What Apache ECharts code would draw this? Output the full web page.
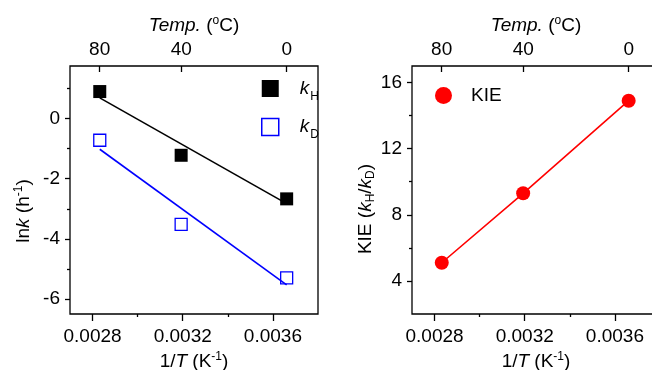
<!DOCTYPE html>
<html><head><meta charset="utf-8">
<script src="https://cdn.jsdelivr.net/npm/echarts@6/dist/echarts.min.js"></script>
<style>html,body{margin:0;padding:0;background:#fff}#c{width:652px;height:370px}</style>
</head><body><div id="c"></div>
<script>
// ---- data ----
const invT = [0.002832, 0.003193, 0.003661];      // 1/T (K^-1) for 80, 40, 0 °C
const lnkH = [0.9, -1.22, -2.67];
const lnkD = [-0.72, -3.52, -5.3];
const fitX = [0.002832, 0.003661];
const fitH = [0.69, -2.83];
const fitD = [-1.02, -5.53];
const KIE = [5.1, 9.3, 14.9];
const tempTicks = [80, 40, 0];                    // top axis (°C)
const xLabelTicks = [0.0028, 0.0032, 0.0036];
const xMinorTicks = [0.0030, 0.0034];
const yLeftLabels = [-6, -4, -2, 0];
const yLeftMinor = [1, -1, -3, -5];
const yRightLabels = [4, 8, 12, 16];
const yRightMinor = [6, 10, 14];

const FONT = 'Liberation Sans, Arial, sans-serif';
const FS = 19;
const tempPos = tempTicks.map(t => 1 / (t + 273.15));
const zip = (a, b) => a.map((v, i) => [v, b[i]]);

const chart = echarts.init(document.getElementById('c'));
const gridRect = (left) => ({left: left, top: 66, width: 248, height: 248, outerBoundsMode: 'none', containLabel: false});
const richName = {
  i: {fontStyle: 'italic', fontSize: FS, fontFamily: FONT, color: '#000'},
  n: {fontSize: FS, fontFamily: FONT, color: '#000'},
  sup: {fontSize: 12, fontFamily: FONT, color: '#000', padding: [0, 0, 10, 0]},
  sub: {fontSize: 12, fontFamily: FONT, color: '#000', padding: [10, 0, 0, 0]}
};
const lbl = {color: '#000', fontSize: FS, fontFamily: FONT};
const noLine = {show: false, onZero: false};

function bottomAxis(grid) {
  return {type: 'value', gridIndex: grid, position: 'bottom', min: 0.0027, max: 0.0038,
    axisLine: noLine, splitLine: {show: false},
    axisTick: {show: true, length: 3, customValues: xMinorTicks, lineStyle: {color: '#000', width: 1.3}},
    axisLabel: {show: true, customValues: xLabelTicks, margin: 13, formatter: v => v.toFixed(4), ...lbl},
    name: '{n|1/}{i|T}{n| (K}{sup|-1}{n|)}', nameLocation: 'middle', nameGap: 33,
    nameTextStyle: {rich: richName, fontSize: FS, fontFamily: FONT}};
}
function topAxis(grid) {
  return {type: 'value', gridIndex: grid, position: 'top', min: 0.0027, max: 0.0038,
    axisLine: noLine, splitLine: {show: false},
    axisTick: {show: true, inside: true, length: 6, customValues: tempPos, lineStyle: {color: '#000', width: 1.3}},
    axisLabel: {show: true, customValues: tempPos, margin: 7, formatter: v => String(Math.round(1 / v - 273.15)), ...lbl},
    name: '{i|Temp.}{n| (}{sup|o}{n|C)}', nameLocation: 'middle', nameGap: 27,
    nameTextStyle: {rich: richName, fontSize: FS, fontFamily: FONT}};
}
function majorX(grid) {
  return {type: 'value', gridIndex: grid, position: 'bottom', min: 0.0027, max: 0.0038,
    axisLine: noLine, splitLine: {show: false}, axisLabel: {show: false},
    axisTick: {show: true, length: 7, customValues: xLabelTicks, lineStyle: {color: '#000', width: 1.3}}};
}
function leftY(grid, min, max, labels, minor, name, gap, shift) {
  return {type: 'value', gridIndex: grid, position: 'left', min: min, max: max,
    axisLine: noLine, splitLine: {show: false},
    axisTick: {show: true, length: 3, customValues: minor, lineStyle: {color: '#000', width: 1.3}},
    axisLabel: {show: true, customValues: labels, margin: 10, ...lbl},
    name: name, nameLocation: 'middle', nameGap: gap,
    nameTextStyle: {rich: richName, fontSize: FS, fontFamily: FONT, padding: [0, shift, 0, 0]}};
}
function majorY(grid, min, max, labels) {
  return {type: 'value', gridIndex: grid, position: 'left', min: min, max: max,
    axisLine: noLine, splitLine: {show: false}, axisLabel: {show: false},
    axisTick: {show: true, length: 5, customValues: labels, lineStyle: {color: '#000', width: 1.3}}};
}

const option = {
  animation: false,
  backgroundColor: '#fff',
  grid: [
    {...gridRect(70), show: true, borderColor: '#000', borderWidth: 1.3, backgroundColor: 'transparent'},
    {...gridRect(70), show: false},
    {...gridRect(412), show: true, borderColor: '#000', borderWidth: 1.3, backgroundColor: 'transparent'},
    {...gridRect(412), show: false}
  ],
  xAxis: [bottomAxis(0), topAxis(0), majorX(1), bottomAxis(2), topAxis(2), majorX(3)],
  yAxis: [
    leftY(0, -6.5, 1.75, yLeftLabels, yLeftMinor, '{n|ln}{i|k}{n| (h}{sup|-1}{n|)}', 35, 42),
    majorY(1, -6.5, 1.75, yLeftLabels),
    leftY(2, 2, 17, yRightLabels, yRightMinor, '{n|KIE (}{i|k}{sub|H}{n|/}{i|k}{sub|D}{n|)}', 35, 38),
    majorY(3, 2, 17, yRightLabels)
  ],
  legend: [
    {orient: 'vertical', left: 256, top: 74, itemWidth: 17, itemHeight: 17, itemGap: 15,
      data: [
        {name: 'kH', icon: 'rect', itemStyle: {color: '#000', borderWidth: 0, opacity: 1}},
        {name: 'kD', icon: 'rect', itemStyle: {color: '#fff', borderColor: '#0000ff', borderWidth: 1.5, opacity: 1}}
      ],
      formatter: n => '{i|k}{s|' + n.slice(1) + '}',
      textStyle: {rich: {i: {fontStyle: 'italic', fontSize: FS, fontFamily: FONT, color: '#000', padding: [0, 0, 0, 16]},
                         s: {fontSize: 12, fontFamily: FONT, color: '#000', padding: [16, 0, 0, 1]}}}},
    {orient: 'vertical', left: 430, top: 81, itemWidth: 17, itemHeight: 17,
      data: [{name: 'KIE', icon: 'circle', itemStyle: {color: '#ff0000', opacity: 1}}],
      textStyle: {color: '#000', fontSize: FS, fontFamily: FONT, padding: [0, 0, 0, 14]}}
  ],
  series: [
    {name: 'fitH', type: 'line', xAxisIndex: 0, yAxisIndex: 0, data: zip(fitX, fitH), symbol: 'none',
      lineStyle: {color: '#000', width: 1.6}, z: 2},
    {name: 'fitD', type: 'line', xAxisIndex: 0, yAxisIndex: 0, data: zip(fitX, fitD), symbol: 'none',
      lineStyle: {color: '#0000ff', width: 1.6}, z: 2},
    {name: 'kH', type: 'scatter', xAxisIndex: 0, yAxisIndex: 0, data: zip(invT, lnkH), symbol: 'rect', symbolSize: 13,
      itemStyle: {color: '#000', opacity: 1}, z: 3},
    {name: 'kD', type: 'scatter', xAxisIndex: 0, yAxisIndex: 0, data: zip(invT, lnkD), symbol: 'rect', symbolSize: 12,
      itemStyle: {color: 'rgba(255,255,255,0)', borderColor: '#0000ff', borderWidth: 1.3, opacity: 1}, z: 3},
    {name: 'KIE', type: 'line', xAxisIndex: 3, yAxisIndex: 2, data: zip(invT, KIE), symbol: 'circle', symbolSize: 14,
      itemStyle: {color: '#ff0000', opacity: 1}, lineStyle: {color: '#ff0000', width: 1.6}, z: 3}
  ]
};
chart.setOption(option);
</script></body></html>
